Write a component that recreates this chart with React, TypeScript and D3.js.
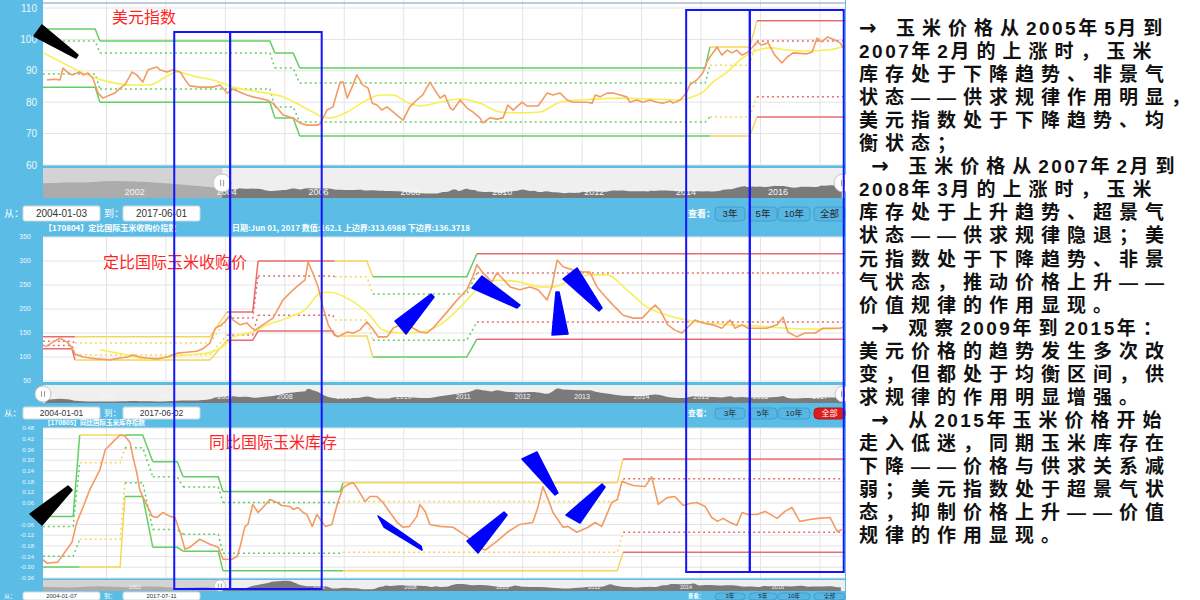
import React from "react";
import * as d3 from "d3";

type P = [number, number];

// ================= DATA =================
// Panel 1: 美元指数 (decimal year, value)
const usdSeries: P[] = [
  [2004.0, 87.1], [2004.13, 87.3], [2004.22, 87.1], [2004.27, 90.9], [2004.34, 89.6], [2004.42, 88.7], [2004.55, 89.6], [2004.61, 88.7],
  [2004.69, 89.3], [2004.77, 87.7], [2004.86, 82.9], [2004.94, 81.3], [2005.06, 82.3], [2005.14, 82.9], [2005.23, 84.5], [2005.31, 85.5],
  [2005.43, 89.6], [2005.51, 88.7], [2005.61, 86.4], [2005.7, 90.3], [2005.85, 91.2], [2005.9, 90.3], [2006.02, 89.6], [2006.12, 90.3],
  [2006.24, 89.6], [2006.35, 86.4], [2006.4, 85.2], [2006.57, 84.8], [2006.79, 84.8], [2006.91, 85.5], [2007.03, 82.9], [2007.13, 84.2],
  [2007.25, 83.2], [2007.36, 82.3], [2007.46, 81.7], [2007.7, 80.7], [2007.8, 79.7], [2007.87, 78.2], [2007.97, 75.9], [2008.14, 75.0],
  [2008.25, 73.4], [2008.37, 72.7], [2008.54, 72.7], [2008.59, 73.0], [2008.71, 77.5], [2008.81, 78.5], [2008.88, 83.2], [2008.93, 86.4],
  [2008.98, 86.4], [2009.05, 81.3], [2009.13, 84.8], [2009.21, 88.7], [2009.31, 85.5], [2009.4, 84.5], [2009.47, 79.7], [2009.55, 79.1],
  [2009.63, 77.5], [2009.72, 78.5], [2009.82, 76.9], [2009.94, 75.0], [2009.99, 74.3], [2010.1, 78.5], [2010.22, 80.7], [2010.32, 82.3],
  [2010.44, 86.4], [2010.61, 81.3], [2010.69, 82.3], [2010.78, 78.2], [2010.83, 77.5], [2010.95, 80.7], [2011.06, 78.2], [2011.16, 76.9],
  [2011.28, 75.0], [2011.33, 73.4], [2011.45, 75.0], [2011.57, 74.6], [2011.67, 75.0], [2011.75, 79.1], [2011.84, 77.5], [2011.99, 80.0],
  [2012.07, 78.8], [2012.26, 78.8], [2012.41, 82.9], [2012.51, 82.3], [2012.63, 82.9], [2012.75, 80.7], [2012.85, 80.0], [2012.96, 80.0],
  [2013.08, 80.0], [2013.17, 79.7], [2013.22, 82.3], [2013.3, 81.7], [2013.42, 82.9], [2013.52, 82.9], [2013.64, 82.3], [2013.75, 81.7],
  [2013.8, 80.0], [2013.92, 80.7], [2014.02, 80.0], [2014.14, 80.7], [2014.26, 80.0], [2014.36, 79.7], [2014.48, 80.4], [2014.53, 79.7],
  [2014.65, 80.7], [2014.76, 83.2], [2014.81, 85.5], [2014.93, 87.1], [2015.03, 89.3], [2015.1, 92.8], [2015.15, 94.4], [2015.27, 97.6],
  [2015.35, 95.0], [2015.44, 96.6], [2015.52, 95.7], [2015.6, 96.6], [2015.69, 95.0], [2015.79, 96.0], [2015.87, 97.6], [2015.94, 99.2],
  [2016.02, 98.2], [2016.13, 98.9], [2016.24, 95.0], [2016.36, 92.5], [2016.45, 94.4], [2016.55, 95.7], [2016.78, 95.4], [2016.87, 96.0],
  [2016.95, 100.4], [2017.03, 99.2], [2017.13, 100.8], [2017.25, 99.8], [2017.34, 98.9], [2017.39, 97.3],
];
const usdAverage: P[] = [
  [2003.94, 95.7], [2004.34, 91.8], [2004.67, 88.7], [2005.06, 86.4], [2005.45, 85.5], [2005.73, 85.5], [2006.02, 88.3], [2006.19, 89.6],
  [2006.46, 88.3], [2006.79, 87.1], [2007.13, 84.8], [2007.58, 83.2], [2007.97, 81.7], [2008.25, 79.1], [2008.47, 76.9], [2008.64, 75.3],
  [2008.76, 75.0], [2009.05, 76.9], [2009.38, 80.7], [2009.6, 82.3], [2009.82, 82.3], [2010.05, 80.0], [2010.27, 78.8], [2010.61, 80.0],
  [2010.95, 81.0], [2011.28, 79.7], [2011.62, 76.9], [2011.95, 76.6], [2012.29, 76.9], [2012.63, 80.0], [2012.96, 80.7], [2013.64, 81.3],
  [2014.19, 81.0], [2014.65, 80.7], [2014.86, 81.7], [2015.03, 83.2], [2015.2, 86.4], [2015.44, 89.6], [2015.65, 93.4], [2015.87, 96.0],
  [2016.16, 97.3], [2016.45, 96.6], [2016.78, 96.3], [2017.12, 96.6], [2017.37, 97.6],
];
const usdEarly: P[] = [
  [2000.0, 108], [2000.5, 111], [2001.0, 112], [2001.5, 116], [2002.0, 114], [2002.5, 110], [2003.0, 104], [2003.5, 97], [2003.96, 88],
];
const usdBandStart = [2003.93, 2004.89, 2007.83, 2008.25, 2015.15, 2015.94];
const usdBandEnd = [2004.81, 2007.75, 2008.14, 2015.07, 2015.82, 2017.46];
const usdBandUpper = [103.3, 99.5, 95.7, 90.9, 97.6, 105.9];
const usdBandUpperMid = [99.5, 95.7, 90.9, 86.1, 91.8, 99.5];
const usdBandLowerMid = [89.0, 84.2, 78.5, 73.7, 75.3, 81.7];
const usdBandLower = [84.8, 80.0, 75.0, 69.2, 69.2, 75.3];
const usdBandState = ["green", "green", "green", "green", "yellow", "red"];
const usdTicks = [60, 70, 80, 90, 100, 110];

// Panel 2: 定比国际玉米收购价
const cornSeries: P[] = [
  [2003.97, 121], [2004.1, 131], [2004.22, 139], [2004.34, 131], [2004.42, 119], [2004.47, 106], [2004.61, 100], [2004.84, 96],
  [2005.06, 94], [2005.23, 98], [2005.35, 100], [2005.45, 104], [2005.56, 100], [2005.68, 98], [2005.85, 96], [2006.02, 100],
  [2006.19, 108], [2006.35, 110], [2006.52, 112], [2006.62, 117], [2006.74, 129], [2006.83, 160], [2006.91, 165], [2006.99, 173],
  [2007.08, 187], [2007.13, 177], [2007.25, 167], [2007.36, 171], [2007.45, 160], [2007.5, 156], [2007.63, 167], [2007.8, 181],
  [2007.97, 219], [2008.14, 240], [2008.29, 256], [2008.34, 260], [2008.39, 298], [2008.47, 275], [2008.56, 246], [2008.64, 204],
  [2008.73, 167], [2008.81, 150], [2008.89, 142], [2009.05, 152], [2009.15, 150], [2009.26, 156], [2009.38, 173], [2009.47, 160],
  [2009.57, 142], [2009.72, 142], [2009.82, 160], [2009.94, 167], [2010.05, 167], [2010.16, 160], [2010.27, 152], [2010.39, 150],
  [2010.49, 160], [2010.73, 194], [2010.9, 219], [2011.06, 240], [2011.16, 267], [2011.23, 292], [2011.32, 277], [2011.4, 267],
  [2011.48, 256], [2011.57, 275], [2011.65, 265], [2011.79, 246], [2011.95, 240], [2012.12, 246], [2012.26, 240], [2012.41, 219],
  [2012.49, 246], [2012.58, 302], [2012.68, 288], [2012.85, 281], [2013.01, 277], [2013.13, 277], [2013.25, 246], [2013.38, 227],
  [2013.52, 208], [2013.69, 187], [2013.86, 181], [2014.01, 181], [2014.14, 198], [2014.23, 208], [2014.31, 198], [2014.44, 167],
  [2014.56, 156], [2014.68, 150], [2014.76, 160], [2014.9, 177], [2015.03, 171], [2015.2, 167], [2015.35, 160], [2015.49, 177],
  [2015.57, 160], [2015.69, 167], [2015.79, 160], [2015.94, 160], [2016.11, 160], [2016.28, 167], [2016.38, 183], [2016.46, 152],
  [2016.61, 142], [2016.75, 150], [2016.92, 150], [2017.05, 160], [2017.34, 160], [2017.39, 162],
];
const cornAverage: P[] = [
  [2004.89, 115], [2005.35, 104], [2005.68, 96], [2006.02, 100], [2006.35, 104], [2006.69, 108], [2007.03, 129], [2007.13, 142],
  [2007.46, 152], [2007.7, 167], [2008.04, 181], [2008.37, 202], [2008.59, 233], [2008.76, 235], [2009.1, 219], [2009.43, 187],
  [2009.65, 156], [2009.94, 150], [2010.27, 152], [2010.61, 167], [2010.95, 204], [2011.23, 240], [2011.57, 260], [2011.95, 256],
  [2012.29, 246], [2012.51, 246], [2012.8, 260], [2013.13, 271], [2013.42, 271], [2013.75, 240], [2014.09, 204], [2014.43, 187],
  [2014.76, 177], [2015.1, 171], [2015.54, 167], [2015.87, 165], [2016.45, 160], [2017.0, 158], [2017.37, 160],
];
const cornBandStart = [2003.93, 2004.47, 2007.03, 2007.55, 2008.84, 2009.48, 2011.23];
const cornBandEnd = [2004.42, 2006.74, 2007.46, 2008.81, 2009.38, 2011.06, 2017.46];
const cornBandUpper = [142, 142, 194, 300, 300, 267, 315];
const cornBandUpperMid = [133, 129, 181, 269, 267, 231, 275];
const cornBandLowerMid = [124, 104, 146, 187, 177, 135, 173];
const cornBandLower = [117, 94, 135, 154, 144, 100, 137];
const cornBandState = ["red", "yellow", "red", "red", "yellow", "green", "red"];
const cornTicks = [50, 100, 150, 200, 250, 300, 350];

// Panel 3: 同比国际玉米库存
const stockSeries: P[] = [
  [2003.92, -0.255], [2004.0, -0.277], [2004.18, -0.271], [2004.3, -0.216], [2004.42, -0.16], [2004.5, -0.049], [2004.61, 0.04],
  [2004.72, 0.135], [2004.89, 0.246], [2004.98, 0.358], [2005.11, 0.402], [2005.23, 0.441], [2005.31, 0.435], [2005.4, 0.397],
  [2005.45, 0.313], [2005.51, 0.23], [2005.56, 0.135], [2005.61, 0.096], [2005.77, -0.015], [2005.85, -0.021], [2005.95, 0.007],
  [2006.07, -0.015], [2006.15, -0.021], [2006.24, -0.104], [2006.32, -0.199], [2006.4, -0.188], [2006.57, -0.143], [2006.74, -0.171],
  [2006.88, -0.188], [2006.96, -0.255], [2007.11, -0.255], [2007.2, -0.238], [2007.25, -0.182], [2007.33, -0.071], [2007.38, -0.06],
  [2007.46, 0.052], [2007.55, 0.007], [2007.63, 0.035], [2007.75, 0.079], [2007.87, 0.063], [2007.95, 0.046], [2008.09, 0.04],
  [2008.14, 0.024], [2008.22, 0.035], [2008.31, 0.007], [2008.37, -0.004], [2008.46, -0.071], [2008.54, -0.004], [2008.62, -0.043],
  [2008.68, -0.071], [2008.79, -0.06], [2008.89, 0.063], [2008.98, 0.146], [2009.06, 0.163], [2009.15, 0.174], [2009.23, 0.135],
  [2009.35, 0.068], [2009.43, 0.096], [2009.55, 0.096], [2009.65, 0.063], [2009.77, 0.007], [2009.89, -0.049], [2009.99, -0.076],
  [2010.1, -0.071], [2010.22, -0.015], [2010.27, 0.051], [2010.36, 0.013], [2010.44, -0.06], [2010.61, -0.071], [2010.83, -0.076],
  [2011.06, -0.127], [2011.25, -0.182], [2011.37, -0.204], [2011.57, -0.154], [2011.74, -0.104], [2011.95, -0.06], [2012.17, -0.049],
  [2012.26, 0.04], [2012.34, 0.152], [2012.43, 0.079], [2012.51, 0.007], [2012.68, -0.076], [2012.76, -0.071], [2012.91, -0.104],
  [2013.1, -0.076], [2013.22, -0.049], [2013.33, -0.071], [2013.5, 0.063], [2013.59, 0.079], [2013.67, 0.18], [2013.86, 0.158],
  [2014.06, 0.152], [2014.17, 0.207], [2014.28, 0.052], [2014.43, 0.09], [2014.56, 0.096], [2014.7, 0.046], [2014.81, 0.057],
  [2014.93, 0.063], [2015.07, 0.04], [2015.18, -0.021], [2015.28, -0.043], [2015.37, -0.026], [2015.49, -0.049], [2015.6, -0.065],
  [2015.69, 0.007], [2015.79, -0.004], [2015.94, -0.004], [2016.08, 0.013], [2016.28, -0.026], [2016.41, 0.013], [2016.53, 0.035],
  [2016.66, -0.043], [2016.83, -0.032], [2016.97, -0.026], [2017.17, -0.021], [2017.29, -0.099], [2017.37, -0.088],
];
const stockEarly: P[] = [
  [2000.0, -0.05], [2000.6, -0.12], [2001.2, -0.02], [2001.8, -0.1], [2002.4, -0.04], [2003.0, -0.15], [2003.5, -0.08], [2003.9, -0.25],
];
const stockBandStart = [2003.93, 2004.55, 2005.31, 2005.78, 2006.29, 2006.96, 2008.98, 2013.69];
const stockBandEnd = [2004.44, 2005.23, 2005.61, 2006.19, 2006.88, 2008.93, 2013.59, 2017.46];
const stockBandUpper = [-0.015, 0.441, 0.441, 0.291, 0.207, 0.124, 0.174, 0.307];
const stockBandUpperMid = [-0.071, 0.285, 0.369, 0.207, 0.15, 0.063, 0.068, 0.196];
const stockBandLowerMid = [-0.238, -0.143, 0.174, -0.088, -0.115, -0.221, -0.216, -0.104];
const stockBandLower = [-0.299, -0.299, 0.096, -0.188, -0.21, -0.32, -0.32, -0.216];
const stockBandState = ["green", "yellow", "green", "green", "green", "green", "yellow", "red"];
const stockTicks = [0.48, 0.42, 0.36, 0.3, 0.24, 0.18, 0.12, 0.06, 0, -0.06, -0.12, -0.18, -0.24, -0.3, -0.36];

const yearTicks = [2005, 2006, 2007, 2008, 2009, 2010, 2011, 2012, 2013, 2014, 2015, 2016, 2017];
const navYearTicks = [2002, 2004, 2006, 2008, 2010, 2012, 2014, 2016];
const navCornYears = [2004, 2005, 2006, 2007, 2008, 2009, 2010, 2011, 2012, 2013, 2014, 2015, 2016, 2017];
const rangeButtons = ["3年", "5年", "10年", "全部"];

// annotation boxes (time span)
const boxSpans: P[] = [[2006.14, 2007.08], [2007.08, 2008.62], [2014.75, 2015.82], [2015.82, 2017.4]];

const noteLines = [
  "→ 玉米价格从2005年5月到",
  "2007年2月的上涨时，玉米",
  "库存处于下降趋势、非景气",
  "状态——供求规律作用明显，",
  "美元指数处于下降趋势、均",
  "衡状态；",
  " → 玉米价格从2007年2月到",
  "2008年3月的上涨时，玉米",
  "库存处于上升趋势、超景气",
  "状态——供求规律隐退；美",
  "元指数处于下降趋势、非景",
  "气状态，推动价格上升——",
  "价值规律的作用显现。",
  " → 观察2009年到2015年：",
  "美元价格的趋势发生多次改",
  "变，但都处于均衡区间，供",
  "求规律的作用明显增强。",
  " → 从2015年玉米价格开始",
  "走入低迷，同期玉米库存在",
  "下降——价格与供求关系减",
  "弱；美元指数处于超景气状",
  "态，抑制价格上升——价值",
  "规律的作用显现。",
];

// ================= STYLE =================
const BG = "#5bbde6";
const ORANGE = "#f39b63";
const AVG = "#f7ef55";
const STATE_COLORS: Record<string, string> = { green: "#62cf62", yellow: "#f6d65a", red: "#e86c6c" };
const GRID = "#e4e4e4";
const ANNOT = "#1414ff";
const UI_FONT = "'Liberation Sans', Arial, 'Noto Sans CJK SC', sans-serif";
const CJK_FONT = "'Noto Sans CJK SC', sans-serif";
const NOTE_FONT = "'Liberation Sans', 'Noto Sans CJK SC', sans-serif";
const PX0 = 43;
const PX1 = 845;

function bandPaths(
  key: string,
  starts: number[],
  ends: number[],
  levels: number[][],
  states: string[],
  x: (v: number) => number,
  y: (v: number) => number
) {
  const out: React.ReactNode[] = [];
  const line = d3.line();
  levels.forEach((lv, k) => {
    const dashed = k === 1 || k === 2;
    starts.forEach((s, i) => {
      const pts: [number, number][] = [
        [x(s), y(lv[i])],
        [x(ends[i]), y(lv[i])],
      ];
      if (i + 1 < starts.length) pts.push([x(starts[i + 1]), y(lv[i + 1])]);
      out.push(
        <path
          key={`${key}-${k}-${i}`}
          d={line(pts) || ""}
          fill="none"
          stroke={STATE_COLORS[states[i]]}
          strokeWidth={1.5}
          strokeDasharray={dashed ? "2,3" : undefined}
        />
      );
    });
  });
  return out;
}

function Navigator(props: {
  id: string;
  data: P[];
  x: d3.ScaleLinear<number, number>;
  yDomain: [number, number];
  top: number;
  bottom: number;
  sel: number;
  labels: number[];
  labelY: number;
  fontSize: number;
  handleR: number;
  rightHandle: boolean;
}) {
  const { id, data, x, yDomain, top, bottom, sel, labels, labelY, fontSize, handleR, rightHandle } = props;
  const y = d3.scaleLinear().domain(yDomain).range([bottom, top]);
  const area =
    d3
      .area<P>()
      .x((d) => x(d[0]))
      .y0(bottom)
      .y1((d) => y(d[1]))
      .curve(d3.curveMonotoneX)(data) || "";
  const sx = Math.max(PX0, x(sel));
  const mid = (top + bottom) / 2;
  const handle = (hx: number) => (
    <g>
      <circle cx={hx} cy={mid} r={handleR} fill="#ffffff" stroke="#c4c4c4" strokeWidth={1} />
      <line x1={hx - 1.5} x2={hx - 1.5} y1={mid - handleR * 0.35} y2={mid + handleR * 0.35} stroke="#999" />
      <line x1={hx + 1.5} x2={hx + 1.5} y1={mid - handleR * 0.35} y2={mid + handleR * 0.35} stroke="#999" />
    </g>
  );
  return (
    <g>
      <defs>
        <clipPath id={id + "L"}>
          <rect x={PX0} y={top} width={Math.max(0, sx - PX0)} height={bottom - top} />
        </clipPath>
        <clipPath id={id + "R"}>
          <rect x={sx} y={top} width={PX1 - sx} height={bottom - top} />
        </clipPath>
      </defs>
      <rect x={PX0} y={top} width={PX1 - PX0} height={bottom - top} fill="#efefef" />
      <rect x={PX0} y={top} width={Math.max(0, sx - PX0)} height={bottom - top} fill="#d3d3d3" />
      <path d={area} fill="#acacac" clipPath={`url(#${id}L)`} />
      <path d={area} fill="#7a7a7a" clipPath={`url(#${id}R)`} />
      {labels.map((v) => (
        <text key={v} x={x(v)} y={labelY} fontSize={fontSize} fill="#f6f6f6" textAnchor="middle" fontFamily={UI_FONT}>
          {v}
        </text>
      ))}
      {handle(sx)}
      {rightHandle ? handle(PX1 - 2) : null}
    </g>
  );
}

function ControlRow(props: {
  y: number;
  h: number;
  fs: number;
  from: string;
  to: string;
  allActive: boolean;
}) {
  const { y, h, fs, from, to, allActive } = props;
  const ty = y + h / 2 + fs * 0.36;
  const btnX = [715, 749, 778, 814];
  const btnW = [30, 28, 32, 31];
  return (
    <g fontFamily={UI_FONT}>
      <text x={4} y={ty} fontSize={fs} fill="#ffffff">从：</text>
      <rect x={23} y={y} width={77} height={h} rx={2} fill="#ffffff" stroke="#cfd8dc" />
      <text x={61.5} y={ty} fontSize={fs} fill="#333" textAnchor="middle">{from}</text>
      <text x={104} y={ty} fontSize={fs} fill="#ffffff">到：</text>
      <rect x={123} y={y} width={77} height={h} rx={2} fill="#ffffff" stroke="#cfd8dc" />
      <text x={161.5} y={ty} fontSize={fs} fill="#333" textAnchor="middle">{to}</text>
      <text x={688} y={ty} fontSize={fs * 0.9} fill="#ffffff" fontWeight="bold">查看：</text>
      {rangeButtons.map((b, i) => {
        const active = allActive && i === rangeButtons.length - 1;
        return (
          <g key={b}>
            <rect
              x={btnX[i]}
              y={y + 1}
              width={btnW[i]}
              height={h - 1}
              rx={4}
              fill={active ? "#dd1c1c" : "#59b6e2"}
              stroke={active ? "#c01010" : "#3f9fce"}
            />
            <text
              x={btnX[i] + btnW[i] / 2}
              y={ty}
              fontSize={fs * 0.95}
              fill={active ? "#ffffff" : "#1e2a30"}
              textAnchor="middle"
            >
              {b}
            </text>
          </g>
        );
      })}
    </g>
  );
}

function noteSpans(line: string) {
  return line
    .split(/(\d+|→)/)
    .filter((s) => s.length > 0)
    .map((s, i) => {
      if (s === "→")
        return (
          <tspan key={i} fontFamily="'DejaVu Sans', sans-serif" fontSize={21}>
            {s}
          </tspan>
        );
      if (/^\d+$/.test(s))
        return (
          <tspan key={i} letterSpacing={2.5}>
            {s}
          </tspan>
        );
      return <tspan key={i}>{s}</tspan>;
    });
}

export default function App() {
  const xMain = d3.scaleLinear().domain([2004, 2017.46]).range([47, 847.3]);
  const xNav = d3.scaleLinear().domain([2000, 2017.46]).range([PX0, PX1]);
  const y1 = d3.scaleLinear().domain([60, 110]).range([165, 8]);
  const y2 = d3.scaleLinear().domain([50, 350]).range([381, 237]);
  const y3 = d3.scaleLinear().domain([-0.36, 0.48]).range([578, 428]);

  const mkLine = (y: d3.ScaleLinear<number, number>, smooth: boolean) =>
    d3
      .line<P>()
      .x((d) => xMain(d[0]))
      .y((d) => y(d[1]))
      .curve(smooth ? d3.curveMonotoneX : d3.curveLinear);

  const panels = [
    {
      id: "p1", top: 0, bottom: 165, y: y1, ticks: usdTicks, fmt: (v: number) => String(v), tfs: 10, tx: 37,
      series: usdSeries, avg: usdAverage,
      bands: [usdBandStart, usdBandEnd, [usdBandUpper, usdBandUpperMid, usdBandLowerMid, usdBandLower], usdBandState] as const,
    },
    {
      id: "p2", top: 237, bottom: 382, y: y2, ticks: cornTicks, fmt: (v: number) => String(v), tfs: 7, tx: 31,
      series: cornSeries, avg: cornAverage,
      bands: [cornBandStart, cornBandEnd, [cornBandUpper, cornBandUpperMid, cornBandLowerMid, cornBandLower], cornBandState] as const,
    },
    {
      id: "p3", top: 428, bottom: 578, y: y3, ticks: stockTicks, fmt: (v: number) => (v === 0 ? "0" : v.toFixed(2)), tfs: 6, tx: 34,
      series: stockSeries, avg: null as P[] | null,
      bands: [stockBandStart, stockBandEnd, [stockBandUpper, stockBandUpperMid, stockBandLowerMid, stockBandLower], stockBandState] as const,
    },
  ];

  const wedgesBlack: [number, number][][] = [
    [[34, 36], [42, 25], [78, 55], [76, 58]],
    [[30, 514], [42, 525], [72, 490], [68, 486]],
  ];
  const wedgesBlue: [number, number][][] = [
    [[395, 321], [406, 334], [434, 297], [431, 294]],
    [[472, 288], [482, 276], [520, 305], [517, 308]],
    [[552, 335], [568, 334], [559, 292], [556, 292]],
    [[563, 279], [577, 268], [602, 308], [599, 311]],
    [[378, 516], [384, 527], [422, 550], [421, 546]],
    [[467, 541], [478, 553], [507, 515], [504, 512]],
    [[522, 459], [537, 452], [558, 493], [555, 495]],
    [[566, 515], [580, 523], [605, 487], [602, 484]],
  ];
  const boxY: P[] = [[32, 589], [32, 589], [10, 572], [10, 572]];
  const poly = (pts: [number, number][]) => (d3.line()(pts) || "") + "Z";

  return (
    <svg
      width={1200}
      height={600}
      style={{ position: "absolute", left: 0, top: 0, display: "block" }}
      fontFamily={UI_FONT}
    >
      <rect x={0} y={0} width={1200} height={600} fill="#ffffff" />
      <rect x={0} y={0} width={846} height={600} fill={BG} />

      {panels.map((p) => {
        const [bs, be, lv, st] = p.bands;
        return (
          <g key={p.id}>
            <defs>
              <clipPath id={p.id + "clip"}>
                <rect x={PX0} y={p.top} width={PX1 - PX0} height={p.bottom - p.top} />
              </clipPath>
            </defs>
            <rect x={PX0} y={p.top} width={PX1 - PX0} height={p.bottom - p.top} fill="#ffffff" />
            {p.ticks.map((t) => (
              <line key={"h" + t} x1={PX0} x2={PX1} y1={p.y(t)} y2={p.y(t)} stroke={GRID} strokeWidth={1} />
            ))}
            {yearTicks.map((t) => (
              <line key={"v" + t} x1={xMain(t)} x2={xMain(t)} y1={p.top} y2={p.bottom} stroke={GRID} strokeWidth={1} />
            ))}
            {p.ticks.map((t) => (
              <text key={"l" + t} x={p.tx} y={p.y(t) + p.tfs * 0.35} fontSize={p.tfs} fill="#eef8fd" textAnchor="end">
                {p.fmt(t)}
              </text>
            ))}
            <g clipPath={`url(#${p.id}clip)`}>
              {bandPaths(p.id, bs as number[], be as number[], lv as unknown as number[][], st as string[], xMain, p.y)}
              {p.avg ? (
                <path d={mkLine(p.y, true)(p.avg) || ""} fill="none" stroke={AVG} strokeWidth={1.6} />
              ) : null}
              <path d={mkLine(p.y, false)(p.series) || ""} fill="none" stroke={ORANGE} strokeWidth={1.6} strokeLinejoin="round" />
            </g>
          </g>
        );
      })}

      {/* top border of first panel */}
      <line x1={PX0} x2={PX1} y1={3} y2={3} stroke="#a9b9cc" strokeWidth={1.5} />

      {/* panel titles */}
      <text x={112} y={23} fontSize={16} fill="#ff2424" fontFamily={CJK_FONT}>美元指数</text>
      <text x={103} y={268} fontSize={16} fill="#ff2424" fontFamily={CJK_FONT}>定比国际玉米收购价</text>
      <text x={209} y={448} fontSize={16} fill="#ff2424" fontFamily={CJK_FONT}>同比国际玉米库存</text>

      {/* navigators */}
      <Navigator id="n1" data={[...usdEarly, ...usdSeries]} x={xNav} yDomain={[57, 161]} top={168} bottom={198}
        sel={2003.9} labels={navYearTicks} labelY={195} fontSize={9} handleR={9} rightHandle={true} />
      <Navigator id="n2" data={cornSeries} x={xMain} yDomain={[70, 360]} top={385} bottom={403}
        sel={2003.9} labels={navCornYears} labelY={399} fontSize={7} handleR={8} rightHandle={true} />
      <Navigator id="n3" data={[...stockEarly, ...stockSeries]} x={xNav} yDomain={[-0.4, 0.5]} top={580} bottom={591}
        sel={2003.85} labels={navYearTicks} labelY={588.5} fontSize={5.5} handleR={5.5} rightHandle={false} />

      {/* control rows */}
      <ControlRow y={206} h={15} fs={10} from="2004-01-03" to="2017-06-01" allActive={false} />
      <text x={44} y={231} fontSize={8} fill="#ffffff" fontWeight="bold" fontFamily={CJK_FONT}>【170804】定比国际玉米收购价指数</text>
      <text x={232} y={231} fontSize={8} fill="#ffffff" fontWeight="bold" fontFamily={CJK_FONT}>
        日期:Jun 01, 2017 数值:162.1 上边界:313.6988 下边界:136.3718
      </text>
      <ControlRow y={407} h={12} fs={8.5} from="2004-01-01" to="2017-06-02" allActive={true} />
      <text x={44} y={425} fontSize={6.5} fill="#ffffff" fontWeight="bold" fontFamily={CJK_FONT}>【170805】同比国际玉米库存指数</text>
      <ControlRow y={592} h={8} fs={6} from="2004-01-07" to="2017-07-11" allActive={false} />

      {/* annotations */}
      {boxSpans.map((s, i) => (
        <rect key={"box" + i} x={xMain(s[0])} y={boxY[i][0]} width={xMain(s[1]) - xMain(s[0])} height={boxY[i][1] - boxY[i][0]}
          fill="none" stroke={ANNOT} strokeWidth={2} />
      ))}
      {wedgesBlack.map((w, i) => (
        <path key={"wb" + i} d={poly(w)} fill="#000000" stroke="#000000" strokeWidth={1.5} strokeLinejoin="round" />
      ))}
      {wedgesBlue.map((w, i) => (
        <path key={"wu" + i} d={poly(w)} fill="#0000ff" stroke="#0000ff" strokeWidth={1.5} strokeLinejoin="round" />
      ))}

      {/* notes */}
      <rect x={846} y={0} width={354} height={600} fill="#ffffff" />
      {noteLines.map((l, i) => (
        <text key={"n" + i} x={859} y={35 + i * 23.05} fontSize={19} fontWeight={700} letterSpacing={7}
          fill="#111111" fontFamily={NOTE_FONT} style={{ whiteSpace: "pre" }}>
          {noteSpans(l)}
        </text>
      ))}
    </svg>
  );
}
